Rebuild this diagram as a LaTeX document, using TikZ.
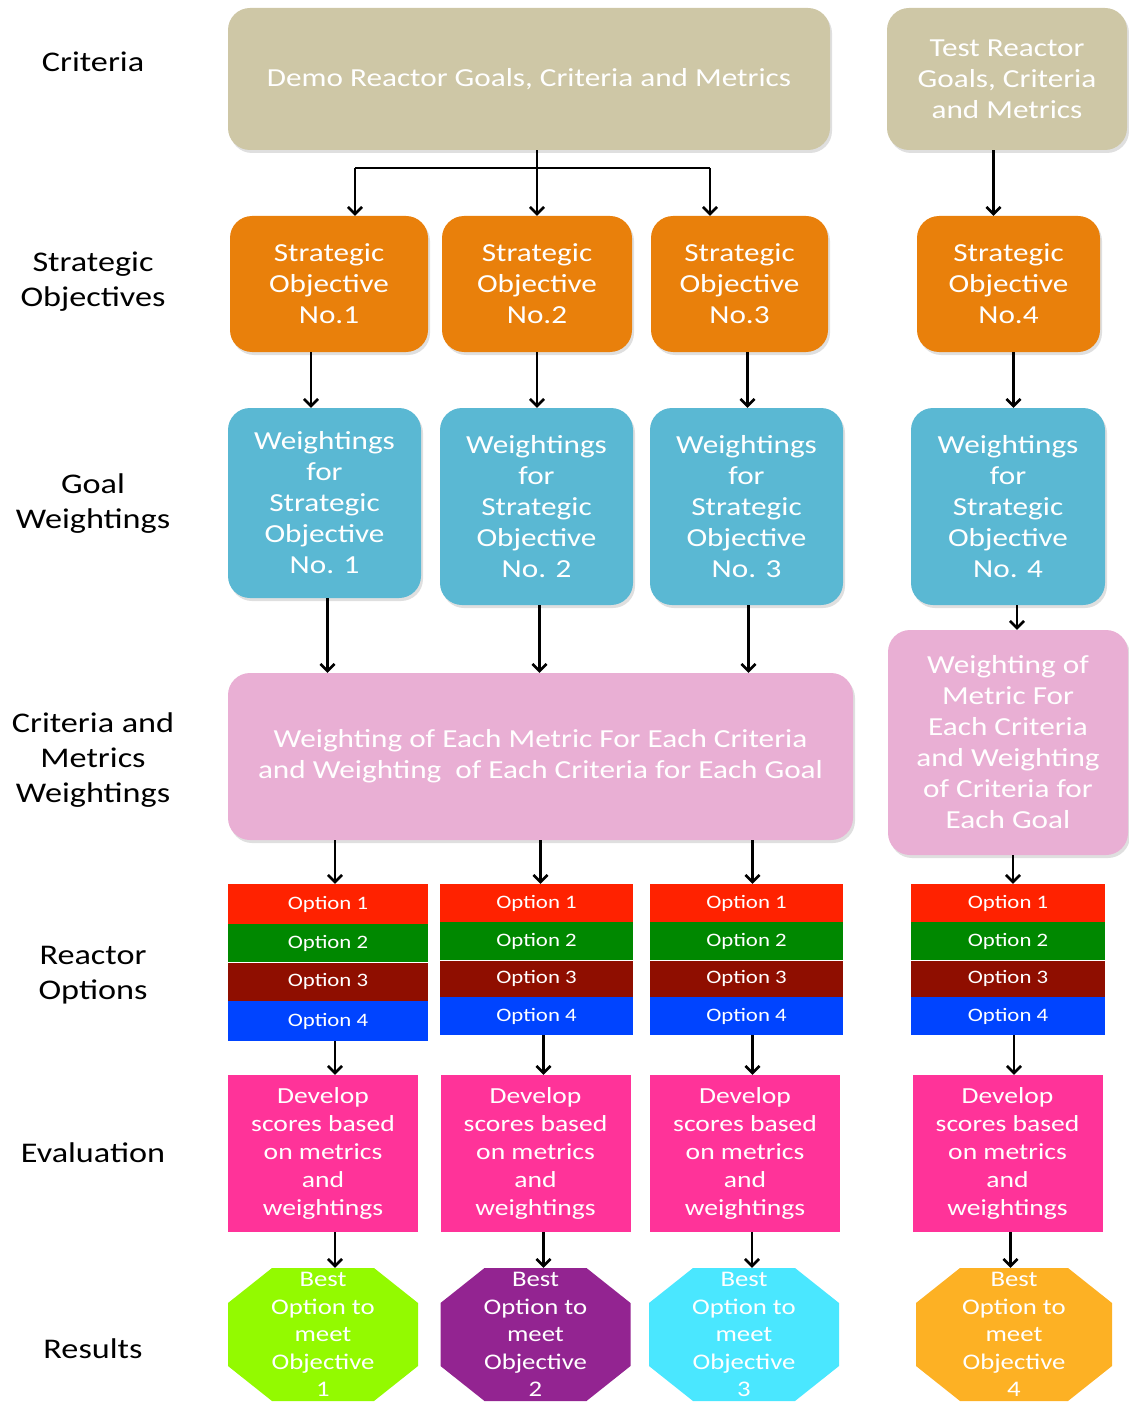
\documentclass[tikz,border=0pt]{standalone}
\usepackage{fontspec}
\setmainfont{Carlito}[FakeStretch=1.2]
\usetikzlibrary{arrows.meta,chains,shadows}
\definecolor{goaltan}{HTML}{CEC7A6}
\definecolor{soorange}{HTML}{E9800B}
\definecolor{wtblue}{HTML}{5AB8D3}
\definecolor{cmpink}{HTML}{E9AFD4}
\definecolor{optred}{HTML}{FF2200}
\definecolor{optgreen}{HTML}{008800}
\definecolor{optbrown}{HTML}{8F0E00}
\definecolor{optblue}{HTML}{0044FF}
\definecolor{evmagenta}{HTML}{FF3399}
\definecolor{reslime}{HTML}{93FA00}
\definecolor{respurple}{HTML}{932491}
\definecolor{rescyan}{HTML}{4AE7FF}
\definecolor{resgold}{HTML}{FDB124}

\begin{document}
\begin{tikzpicture}[x=1pt,y=-1pt,
  rowlbl/.style={align=center,font=\fontsize{28.5}{35}\selectfont},
  rbox/.style={rounded corners=22pt,text=white,align=center,inner sep=0pt,
    font=\fontsize{26}{31}\selectfont,
    drop shadow={opacity=0.25,shadow xshift=2pt,shadow yshift=-3pt}},
  opt/.style={text=white,inner sep=0pt,minimum height=38pt,
    font=\fontsize{19}{20}\selectfont},
  evbox/.style={fill=evmagenta,text=white,align=center,inner sep=0pt,
    minimum width=190pt,minimum height=157pt,font=\fontsize{23}{28}\selectfont},
  octo/.style={text=white,align=center,inner sep=0pt,
    minimum width=190pt,minimum height=133pt,font=\fontsize{22.3}{27.5}\selectfont,
    path picture={\fill[#1]
      ([xshift=44pt]path picture bounding box.north west) --
      ([xshift=-44pt]path picture bounding box.north east) --
      ([yshift=-35pt]path picture bounding box.north east) --
      ([yshift=35pt]path picture bounding box.south east) --
      ([xshift=-44pt]path picture bounding box.south east) --
      ([xshift=44pt]path picture bounding box.south west) --
      ([yshift=35pt]path picture bounding box.south west) --
      ([yshift=-35pt]path picture bounding box.north west) -- cycle;}},
  arj/.style={line width=2.6pt,-{Straight Barb[length=7pt,width=14pt]}}]
  \useasboundingbox (0,0) rectangle (1128,1404);
  % row labels
  \node[rowlbl] (l-crit) at (93,62) {Criteria};
  \node[rowlbl] (l-so) at (93,282) {Strategic\\Objectives};
  \node[rowlbl] (l-gw) at (93,504) {Goal\\Weightings};
  \node[rowlbl] (l-cm) at (93,760) {Criteria and\\Metrics\\Weightings};
  \node[rowlbl] (l-ro) at (93,975) {Reactor\\Options};
  \node[rowlbl] (l-ev) at (93,1153) {Evaluation};
  \node[rowlbl] (l-res) at (93,1349) {Results};
  % goals
  \node[rbox,fill=goaltan,minimum width=602pt,minimum height=142pt] (demo)
    at (529,79) {Demo Reactor Goals, Criteria and Metrics};
  \node[rbox,fill=goaltan,minimum width=240pt,minimum height=142pt] (test)
    at (1007,79) {Test Reactor\\Goals, Criteria\\and Metrics};
  % strategic objectives
  \node[rbox,fill=soorange,minimum width=198pt,minimum height=136pt] (so1)
    at (329,284) {Strategic\\Objective\\No.1};
  \node[rbox,fill=soorange,minimum width=190pt,minimum height=136pt] (so2)
    at (537,284) {Strategic\\Objective\\No.2};
  \node[rbox,fill=soorange,minimum width=177pt,minimum height=136pt] (so3)
    at (739.5,284) {Strategic\\Objective\\No.3};
  \node[rbox,fill=soorange,minimum width=183pt,minimum height=136pt] (so4)
    at (1008.5,284) {Strategic\\Objective\\No.4};
  % goal weightings
  \node[rbox,fill=wtblue,minimum width=193pt,minimum height=190pt] (w1)
    at (324.5,503) {Weightings\\for\\Strategic\\Objective\\No. 1};
  \node[rbox,fill=wtblue,minimum width=193pt,minimum height=197pt] (w2)
    at (536.5,506.5) {Weightings\\for\\Strategic\\Objective\\No. 2};
  \node[rbox,fill=wtblue,minimum width=193pt,minimum height=197pt] (w3)
    at (746.5,506.5) {Weightings\\for\\Strategic\\Objective\\No. 3};
  \node[rbox,fill=wtblue,minimum width=194pt,minimum height=197pt] (w4)
    at (1008,506.5) {Weightings\\for\\Strategic\\Objective\\No. 4};
  % criteria and metrics weightings
  \node[rbox,fill=cmpink,minimum width=625pt,minimum height=167pt] (cm)
    at (540.5,756.5) {Weighting of Each Metric For Each Criteria\\
    and Weighting\ \ of Each Criteria for Each Goal};
  \node[rbox,fill=cmpink,minimum width=240pt,minimum height=225pt] (cm4)
    at (1008,742.5) {Weighting of\\Metric For\\Each Criteria\\and Weighting\\
    of Criteria for\\Each Goal};
  % reactor options
  \begin{scope}[start chain=o1 going below,node distance=0pt,
    oc/.style={opt,minimum width=200pt,on chain}]
    \node[oc,fill=optred,minimum height=40pt] at (328,904) {Option 1};
    \node[oc,fill=optgreen] {Option 2};
    \node[oc,fill=optbrown] {Option 3};
    \node[oc,fill=optblue,minimum height=40pt] {Option 4};
  \end{scope}
  \begin{scope}[start chain=o2 going below,node distance=0pt,
    oc/.style={opt,minimum width=193pt,on chain}]
    \node[oc,fill=optred] at (536.5,903) {Option 1};
    \node[oc,fill=optgreen] {Option 2};
    \node[oc,fill=optbrown,minimum height=36pt] {Option 3};
    \node[oc,fill=optblue] {Option 4};
  \end{scope}
  \begin{scope}[start chain=o3 going below,node distance=0pt,
    oc/.style={opt,minimum width=193pt,on chain}]
    \node[oc,fill=optred] at (746.5,903) {Option 1};
    \node[oc,fill=optgreen] {Option 2};
    \node[oc,fill=optbrown,minimum height=36pt] {Option 3};
    \node[oc,fill=optblue] {Option 4};
  \end{scope}
  \begin{scope}[start chain=o4 going below,node distance=0pt,
    oc/.style={opt,minimum width=194pt,on chain}]
    \node[oc,fill=optred] at (1008,903) {Option 1};
    \node[oc,fill=optgreen] {Option 2};
    \node[oc,fill=optbrown,minimum height=36pt] {Option 3};
    \node[oc,fill=optblue] {Option 4};
  \end{scope}
  % evaluation
  \node[evbox] (ev1) at (323,1153.5) {Develop\\scores based\\on metrics\\and\\weightings};
  \node[evbox] (ev2) at (535.5,1153.5) {Develop\\scores based\\on metrics\\and\\weightings};
  \node[evbox] (ev3) at (745,1153.5) {Develop\\scores based\\on metrics\\and\\weightings};
  \node[evbox] (ev4) at (1007.5,1153.5) {Develop\\scores based\\on metrics\\and\\weightings};
  % results
  \node[octo=reslime] (r1) at (323,1334.5) {Best\\Option to\\meet\\Objective\\1};
  \node[octo=respurple] (r2) at (535.5,1334.5) {Best\\Option to\\meet\\Objective\\2};
  \node[octo=rescyan] (r3) at (744,1334.5) {Best\\Option to\\meet\\Objective\\3};
  \node[octo=resgold,minimum width=196pt] (r4) at (1014,1334.5) {Best\\Option to\\meet\\Objective\\4};
  % connectors
  \coordinate (f1) at (355,168);
  \coordinate (f3) at (710,168);
  \draw[arj] (demo.south -| so2.north) -- (so2.north);
  \draw[line width=2.6pt] (f1) -- (f3);
  \draw[arj] (f1) -- (f1 |- so1.north);
  \draw[arj] (f3) -- (f3 |- so3.north);
  \draw[arj] ([xshift=-15pt]so4.north |- test.south) -- ([xshift=-15pt]so4.north);
  \draw[arj] ([xshift=-18pt]so1.south) -- ([xshift=-18pt]so1.south |- w1.north);
  \draw[arj] (so2.south) -- (so2.south |- w2.north);
  \draw[arj] ([xshift=8pt]so3.south) -- ([xshift=8pt]so3.south |- w3.north);
  \draw[arj] ([xshift=5pt]so4.south) -- ([xshift=5pt]so4.south |- w4.north);
  \draw[arj] ([xshift=3pt]w1.south) -- ([xshift=3pt]w1.south |- cm.north);
  \draw[arj] ([xshift=3pt]w2.south) -- ([xshift=3pt]w2.south |- cm.north);
  \draw[arj] ([xshift=2pt]w3.south) -- ([xshift=2pt]w3.south |- cm.north);
  \draw[arj] ([xshift=9pt]w4.south) -- ([xshift=9pt]w4.south |- cm4.north);
  \draw[arj] ([xshift=7pt]o1-1.north |- cm.south) -- ([xshift=7pt]o1-1.north);
  \draw[arj] ([xshift=4pt]o2-1.north |- cm.south) -- ([xshift=4pt]o2-1.north);
  \draw[arj] ([xshift=6pt]o3-1.north |- cm.south) -- ([xshift=6pt]o3-1.north);
  \draw[arj] ([xshift=5pt]o4-1.north |- cm4.south) -- ([xshift=5pt]o4-1.north);
  \draw[arj] ([xshift=7pt]o1-4.south) -- ([xshift=7pt]o1-4.south |- ev1.north);
  \draw[arj] ([xshift=7pt]o2-4.south) -- ([xshift=7pt]o2-4.south |- ev2.north);
  \draw[arj] ([xshift=6pt]o3-4.south) -- ([xshift=6pt]o3-4.south |- ev3.north);
  \draw[arj] ([xshift=6pt]o4-4.south) -- ([xshift=6pt]o4-4.south |- ev4.north);
  \draw[arj] ([xshift=12pt]ev1.south) -- ([xshift=12pt]ev1.south |- r1.north);
  \draw[arj] ([xshift=8pt]ev2.south) -- ([xshift=8pt]ev2.south |- r2.north);
  \draw[arj] ([xshift=7pt]ev3.south) -- ([xshift=7pt]ev3.south |- r3.north);
  \draw[arj] ([xshift=3pt]ev4.south) -- ([xshift=3pt]ev4.south |- r4.north);
\end{tikzpicture}
\end{document}
